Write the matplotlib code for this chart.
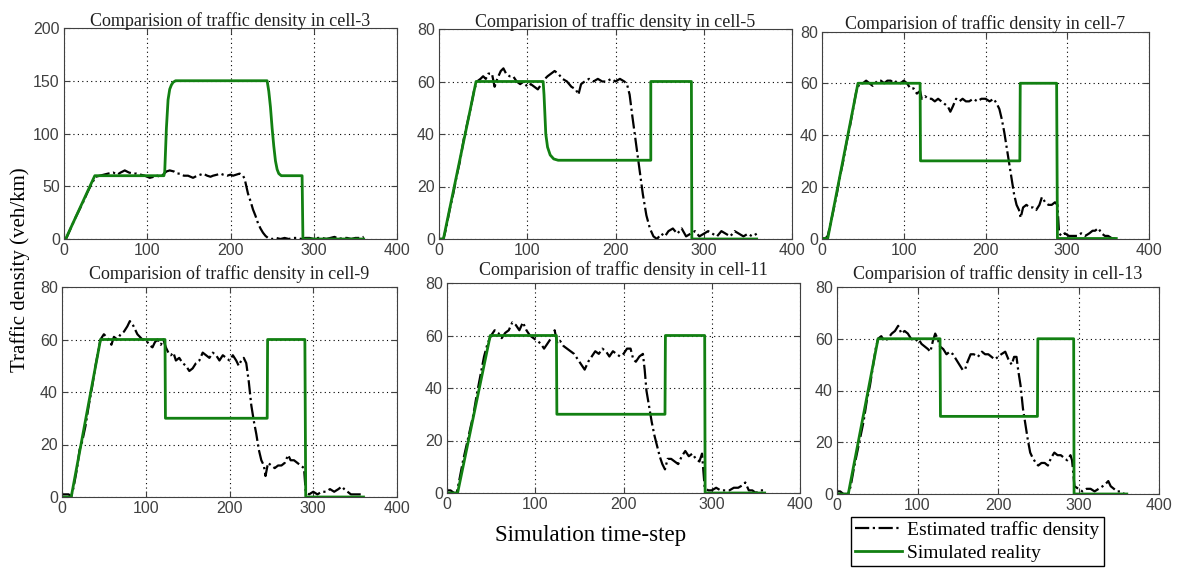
import matplotlib
matplotlib.use("Agg")
import matplotlib.pyplot as plt
import numpy as np

# ---- data --------------------------------------------------------------
cells = ["3", "5", "7", "9", "11", "13"]

# simulated reality (green) : (time-step, density)
sim_cell3 = [(0, 0), (2, 0), (37, 60), (120, 60), (121, 64), (123, 105), (125, 132),
             (127, 142), (129, 146), (131, 148.5), (134, 150), (244, 150), (246, 140),
             (248, 125), (250, 105), (252, 88), (254, 74), (256, 66), (258, 62),
             (261, 60), (286, 60), (287, 0), (360, 0)]
sim_cell5 = [(0, 0), (5, 0), (42, 60), (118, 60), (119, 55), (121, 40), (123, 35),
             (126, 32), (130, 30.5), (135, 30), (240, 30), (240, 60), (286, 60),
             (286.5, 0), (360, 0)]
sim_cell7 = [(0, 0), (7, 0), (44, 60), (120, 60), (120.5, 30), (242, 30), (242.5, 60),
             (287, 60), (288, 0), (360, 0)]
sim_cell9 = [(0, 0), (11, 0), (46, 60), (123, 60), (123.5, 30), (245, 30), (245.5, 60),
             (290, 60), (291, 0), (360, 0)]
sim_cell11 = [(0, 0), (12, 0), (49, 60), (124, 60), (124.5, 30), (247, 30), (247.5, 60),
              (292, 60), (292.5, 0), (360, 0)]
sim_cell13 = [(0, 0), (14, 0), (51, 60), (128, 60), (128.5, 30), (249, 30), (249.5, 60),
              (294, 60), (294.5, 0), (360, 0)]

# estimated traffic density (black dash-dot)
est_cell3 = [(0, 0), (3, 1), (8, 10), (13, 19), (18, 27), (23, 35), (28, 44), (33, 52),
             (38, 59), (43, 60), (48, 61), (53, 62), (59, 63), (64, 61), (68, 63),
             (73, 65), (78, 63), (83, 62), (87, 62), (92, 61), (97, 60), (103, 58),
             (108, 59), (112, 60), (115, 59), (119, 61), (123, 64), (127, 65), (132, 64),
             (136, 62), (139, 62), (144, 60), (149, 60), (155, 58), (160, 60), (164, 61),
             (167, 62), (172, 60), (176, 59), (179, 60), (184, 61), (188, 62), (191, 61),
             (196, 60), (200, 61), (203, 60), (207, 61), (211, 62), (215, 60), (217, 57),
             (219, 50), (221, 43), (224, 36), (227, 28), (230, 22), (233, 15), (236, 10),
             (239, 6), (242, 3), (245, 1), (250, 0), (255, 1), (260, 0), (265, 1), (270, 0),
             (275, 1), (280, 1), (285, 0), (290, 1), (295, 1), (300, 0), (305, 1), (310, 1),
             (315, 0), (320, 1), (325, 2), (330, 0), (335, 1), (340, 1), (345, 0), (350, 1),
             (355, 1), (360, 2)]
est_cell5 = [(0, 0), (5, 0), (8, 4), (12, 11), (16, 17), (20, 24), (24, 30), (28, 38),
             (32, 44), (36, 50), (40, 57), (43, 60), (47, 61), (50, 62), (53, 61), (56, 63),
             (60, 63), (63, 58), (66, 61), (70, 64), (73, 65), (76, 63), (80, 62), (84, 62),
             (88, 60), (92, 59), (96, 60), (100, 58), (104, 59), (108, 58), (112, 57),
             (116, 59), (120, 61), (123, 62), (127, 63), (131, 64), (135, 63), (140, 61),
             (145, 60), (150, 58), (155, 57), (158, 55), (161, 59), (165, 60), (170, 61),
             (175, 60), (180, 61), (185, 60), (190, 60), (195, 61), (200, 60), (205, 61),
             (210, 60), (213, 59), (216, 55), (219, 47), (223, 37), (227, 27), (231, 17),
             (235, 9), (239, 4), (243, 1), (247, 0), (252, 2), (256, 1), (260, 3), (265, 4),
             (270, 2), (275, 4), (280, 1), (285, 2), (290, 3), (295, 1), (300, 2), (305, 3),
             (310, 2), (315, 1), (320, 3), (325, 2), (330, 1), (335, 3), (340, 2), (345, 1),
             (350, 2), (355, 1), (360, 2)]
est_cell7 = [(0, 0), (4, 0), (7, 1), (10, 5), (14, 11), (18, 17), (22, 24), (26, 30),
             (30, 37), (34, 43), (38, 50), (42, 57), (46, 60), (50, 60), (54, 61), (58, 60),
             (62, 59), (65, 60), (68, 61), (72, 61), (76, 60), (80, 61), (84, 61), (88, 60),
             (92, 61), (96, 60), (100, 61), (104, 60), (108, 58), (112, 58), (116, 56),
             (120, 57), (122, 54), (126, 55), (130, 54), (134, 54), (138, 53), (142, 54),
             (146, 53), (150, 52), (154, 51), (157, 49), (160, 51), (164, 54), (168, 53),
             (172, 54), (176, 53), (180, 53), (185, 54), (190, 53), (195, 54), (200, 54),
             (205, 53), (210, 54), (214, 52), (217, 50), (220, 46), (223, 41), (226, 35),
             (229, 29), (232, 23), (235, 17), (238, 13), (241, 11), (243, 8), (246, 12),
             (250, 13), (254, 12), (258, 12), (262, 11), (266, 13), (269, 16), (273, 14),
             (277, 13), (281, 13), (285, 14), (288, 13), (290, 2), (293, 1), (297, 2),
             (302, 1), (307, 1), (312, 1), (317, 2), (322, 1), (327, 2), (331, 3), (334, 3),
             (338, 4), (342, 2), (346, 1), (350, 1), (355, 0), (360, 0)]
est_cell9 = [(0, 1), (4, 1), (8, 1), (11, 0), (14, 4), (18, 11), (21, 18), (24, 21),
             (28, 27), (32, 35), (36, 42), (40, 50), (43, 55), (46, 60), (50, 62), (53, 61),
             (56, 60), (59, 58), (62, 61), (66, 60), (70, 62), (74, 63), (78, 65), (81, 67),
             (84, 66), (87, 64), (90, 62), (93, 61), (96, 60), (100, 60), (104, 58),
             (108, 57), (111, 59), (114, 60), (118, 58), (121, 60), (124, 57), (127, 55),
             (130, 54), (133, 55), (136, 52), (140, 53), (144, 51), (148, 50), (152, 48),
             (156, 49), (160, 51), (164, 52), (168, 55), (172, 54), (176, 53), (180, 55),
             (184, 54), (188, 52), (192, 54), (196, 53), (200, 52), (204, 54), (208, 52),
             (211, 50), (214, 52), (217, 53), (220, 51), (223, 44), (226, 35), (229, 29),
             (232, 24), (235, 18), (238, 14), (241, 12), (243, 8), (246, 13), (250, 12),
             (254, 11), (258, 12), (262, 12), (266, 13), (270, 16), (273, 14), (277, 14),
             (281, 13), (285, 12), (289, 11), (291, 2), (295, 1), (300, 2), (305, 1),
             (310, 2), (315, 2), (320, 3), (325, 2), (330, 3), (334, 4), (337, 3), (341, 2),
             (345, 1), (350, 1), (355, 1), (360, 1)]
est_cell11 = [(0, 1), (4, 1), (8, 0), (11, 0), (14, 5), (18, 12), (22, 18), (26, 24),
              (30, 30), (34, 38), (38, 45), (42, 52), (46, 57), (50, 60), (54, 62), (58, 61),
              (62, 59), (66, 61), (70, 62), (74, 65), (78, 64), (82, 62), (86, 65), (90, 62),
              (94, 60), (98, 59), (102, 58), (106, 57), (110, 55), (114, 57), (118, 59),
              (122, 62), (125, 57), (128, 58), (132, 56), (136, 55), (140, 54), (144, 53),
              (148, 51), (152, 49), (156, 47), (160, 50), (164, 52), (168, 54), (172, 53),
              (176, 55), (180, 54), (184, 52), (188, 54), (192, 53), (196, 52), (200, 53),
              (204, 55), (208, 55), (211, 51), (214, 50), (218, 52), (222, 53), (224, 47),
              (226, 39), (229, 33), (232, 27), (235, 22), (238, 18), (241, 14), (244, 11),
              (247, 9), (250, 13), (254, 13), (258, 12), (262, 11), (266, 14), (270, 16),
              (274, 14), (278, 15), (282, 13), (286, 12), (289, 15), (292, 2), (296, 1),
              (300, 1), (305, 2), (310, 1), (315, 1), (320, 1), (325, 2), (330, 2), (335, 3),
              (338, 4), (342, 1), (346, 1), (350, 0), (355, 1), (359, 1)]
est_cell13 = [(0, 1), (4, 1), (8, 0), (14, 0), (17, 3), (21, 10), (25, 16), (29, 22),
              (33, 28), (37, 36), (41, 42), (45, 50), (48, 56), (51, 60), (55, 61), (59, 59),
              (63, 60), (68, 62), (72, 63), (76, 65), (80, 62), (84, 63), (88, 62), (92, 60),
              (97, 59), (101, 60), (105, 58), (109, 57), (113, 56), (116, 55), (119, 59),
              (122, 62), (125, 60), (128, 57), (132, 56), (136, 54), (140, 55), (144, 54),
              (148, 52), (152, 50), (156, 48), (159, 48), (162, 51), (166, 54), (170, 54),
              (175, 53), (180, 55), (184, 54), (188, 54), (192, 53), (196, 52), (200, 53),
              (204, 54), (209, 55), (213, 52), (217, 50), (220, 53), (223, 53), (225, 48),
              (228, 42), (231, 33), (234, 27), (237, 21), (240, 16), (243, 14), (247, 12),
              (250, 11), (254, 12), (258, 12), (262, 11), (266, 14), (270, 16), (274, 15),
              (278, 15), (282, 14), (286, 13), (290, 15), (292, 13), (295, 3), (300, 2),
              (305, 1), (310, 2), (315, 2), (320, 1), (325, 2), (330, 3), (334, 4), (337, 5),
              (340, 3), (344, 2), (348, 1), (352, 1), (357, 0)]

estimated = [est_cell3, est_cell5, est_cell7, est_cell9, est_cell11, est_cell13]
simulated = [sim_cell3, sim_cell5, sim_cell7, sim_cell9, sim_cell11, sim_cell13]
y_max = [200, 80, 80, 80, 80, 80]
y_step = [50, 20, 20, 20, 20, 20]
x_ticks = [0, 100, 200, 300, 400]

# axes boxes in figure pixels: left, top, right, bottom (1178 x 570)
boxes = [(64, 28, 397, 239), (439, 29, 792, 239), (822, 31.5, 1149, 238.5),
         (62, 287, 397, 497), (447, 283, 800, 493), (837, 287, 1159, 494)]

W, H = 1178, 570
SERIF = ["Liberation Serif", "DejaVu Serif"]
GREEN = "#128012"

plt.rcParams.update({
    "font.family": ["Liberation Sans Narrow", "Liberation Sans", "DejaVu Sans"],
    "xtick.direction": "in",
    "ytick.direction": "in",
    "xtick.major.size": 4,
    "ytick.major.size": 4,
    "xtick.color": "#404040",
    "ytick.color": "#404040",
    "xtick.labelsize": 11.5,
    "ytick.labelsize": 11.5,
    "axes.edgecolor": "#404040",
})

fig = plt.figure(figsize=(W / 100, H / 100), dpi=100)

for i, cell in enumerate(cells):
    l, t, r, b = boxes[i]
    ax = fig.add_axes([l / W, 1 - b / H, (r - l) / W, (b - t) / H])
    est = np.array(estimated[i])
    sim = np.array(simulated[i])
    ax.plot(est[:, 0], est[:, 1], color="black", ls="-.", lw=1.6,
            label="Estimated traffic density")
    ax.plot(sim[:, 0], sim[:, 1], color=GREEN, ls="-", lw=2.0,
            label="Simulated reality")
    ax.set_xlim(0, 400)
    ax.set_ylim(0, y_max[i])
    ax.set_xticks(x_ticks)
    ax.set_yticks(np.arange(0, y_max[i] + 1, y_step[i]))
    ax.grid(True, color="black", ls=(0, (1, 3)), lw=0.8)
    ax.tick_params(top=True, right=True, pad=3)
    ax.set_title(f"Comparision of traffic density in cell-{cell}",
                 family=SERIF, fontsize=13, color="#202020",
                 pad=1.5 if i < 3 else 5.5)
    if i == 0:
        handles, labels = ax.get_legend_handles_labels()

fig.text(20 / W, 1 - 270 / H, "Traffic density (veh/km)", rotation=90,
         ha="center", va="center", family=SERIF, fontsize=15)
fig.text(591 / W, 1 - 535 / H, "Simulation time-step", ha="center", va="center",
         family=SERIF, fontsize=16.5)

leg = fig.legend(handles, labels, loc="upper left",
                 bbox_to_anchor=(851 / W, 1 - 517 / H), frameon=True,
                 fancybox=False, framealpha=1, edgecolor="black",
                 prop={"family": SERIF, "size": 14}, handlelength=2.4,
                 borderaxespad=0, borderpad=0.2, labelspacing=0.3,
                 handletextpad=0.3)
leg.get_frame().set_linewidth(1.0)

fig.savefig("out.png", dpi=100)
